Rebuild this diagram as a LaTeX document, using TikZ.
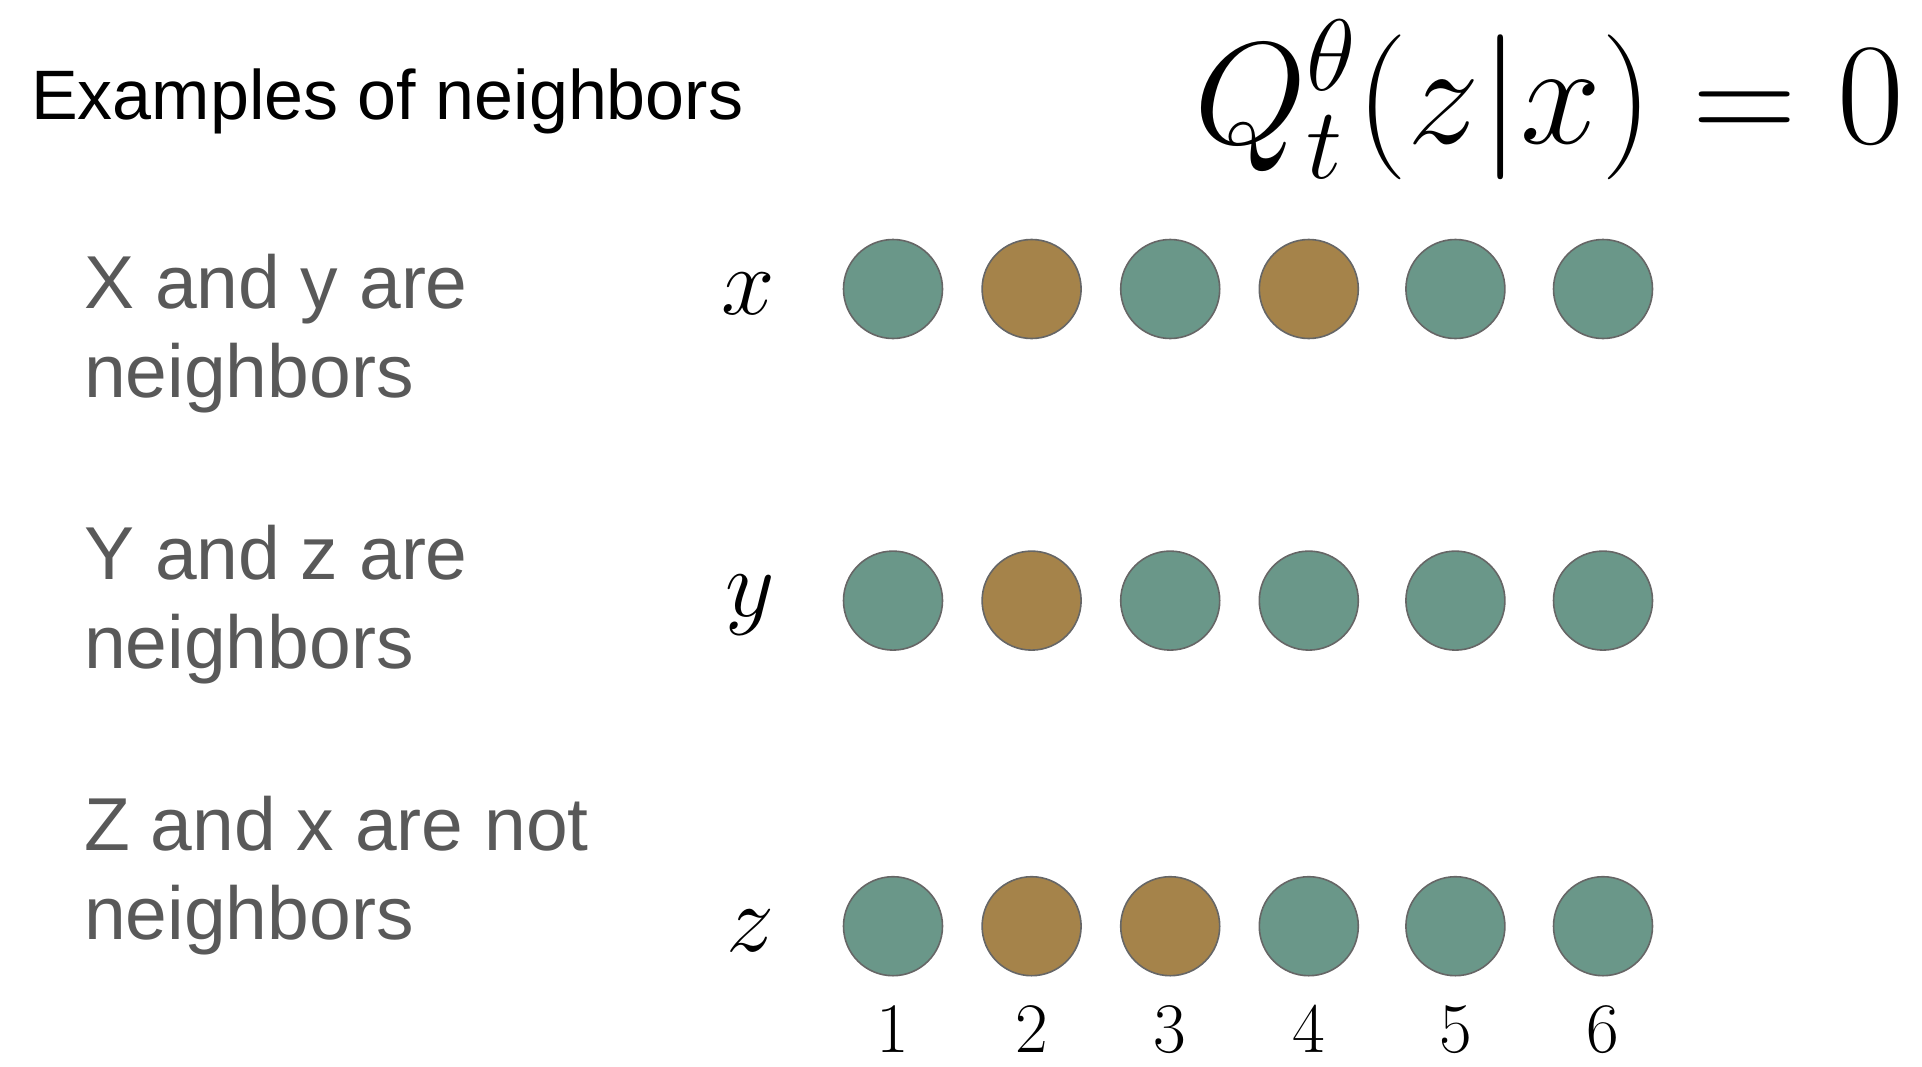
\RequirePackage{fix-cm}
\documentclass[tikz,border=0pt]{standalone}
\usepackage[no-math]{fontspec}
\newfontfamily\arialfont{Liberation Sans}
\usetikzlibrary{positioning}
\definecolor{tealdot}{HTML}{6A9789}
\definecolor{ochredot}{HTML}{A5834A}
\definecolor{rimgray}{HTML}{666666}
\definecolor{textgray}{HTML}{595959}

\begin{document}
\begin{tikzpicture}[x=1pt, y=-1pt, node distance=38pt,
  site/.style={circle, draw=rimgray, line width=1.6pt, minimum size=99pt, inner sep=0pt},
  tealsite/.style={site, fill=tealdot},
  ochresite/.style={site, fill=ochredot},
  caption/.style={anchor=base west, inner sep=0pt, align=left, text=textgray, font=\arialfont\fontsize{75}{89}\selectfont},
  seq/.style={inner sep=0pt, yshift=-5pt, font=\fontsize{96}{110}\selectfont},
  index/.style={inner sep=0pt, font=\fontsize{71}{80}\selectfont}]
\useasboundingbox (0,0) rectangle (1922,1066);

%Nodes
\node[anchor=base west, inner sep=0pt, font=\arialfont\fontsize{70}{84}\selectfont] (title) at (31,119) {Examples of neighbors};
\node[anchor=base east, inner sep=0pt, font=\fontsize{145}{160}\selectfont] (formula) at (1904,143) {$Q_t^{\theta}(z|x)=0$};

\node[caption] (capx) at (84,397) {X and y are\\neighbors};
\node[caption] (capy) at (84,668) {Y and z are\\neighbors};
\node[caption] (capz) at (84,939) {Z and x are not\\neighbors};

\node[tealsite]  (x1) at (893,289)         {};
\node[ochresite] (x2) [right=of x1]        {};
\node[tealsite]  (x3) [right=of x2]        {};
\node[ochresite] (x4) [right=of x3]        {};
\node[tealsite]  (x5) [right=46pt of x4]   {};
\node[tealsite]  (x6) [right=47pt of x5]   {};

\node[tealsite]  (y1) [below=211pt of x1]  {};
\node[ochresite] (y2) [below=211pt of x2]  {};
\node[tealsite]  (y3) [below=211pt of x3]  {};
\node[tealsite]  (y4) [below=211pt of x4]  {};
\node[tealsite]  (y5) [below=211pt of x5]  {};
\node[tealsite]  (y6) [below=211pt of x6]  {};

\node[tealsite]  (z1) [below=225pt of y1]  {};
\node[ochresite] (z2) [below=225pt of y2]  {};
\node[ochresite] (z3) [below=225pt of y3]  {};
\node[tealsite]  (z4) [below=225pt of y4]  {};
\node[tealsite]  (z5) [below=225pt of y5]  {};
\node[tealsite]  (z6) [below=225pt of y6]  {};

\node[seq] (lx) [left=68pt of x1] {$x$};
\node[seq] (ly) [left=68pt of y1] {$y$};
\node[seq] (lz) [left=68pt of z1] {$z$};

\node[index] (n1) [below=30pt of z1] {$1$};
\node[index] (n2) [below=30pt of z2] {$2$};
\node[index] (n3) [below=30pt of z3] {$3$};
\node[index] (n4) [below=30pt of z4] {$4$};
\node[index] (n5) [below=30pt of z5] {$5$};
\node[index] (n6) [below=30pt of z6] {$6$};

\end{tikzpicture}
\end{document}
